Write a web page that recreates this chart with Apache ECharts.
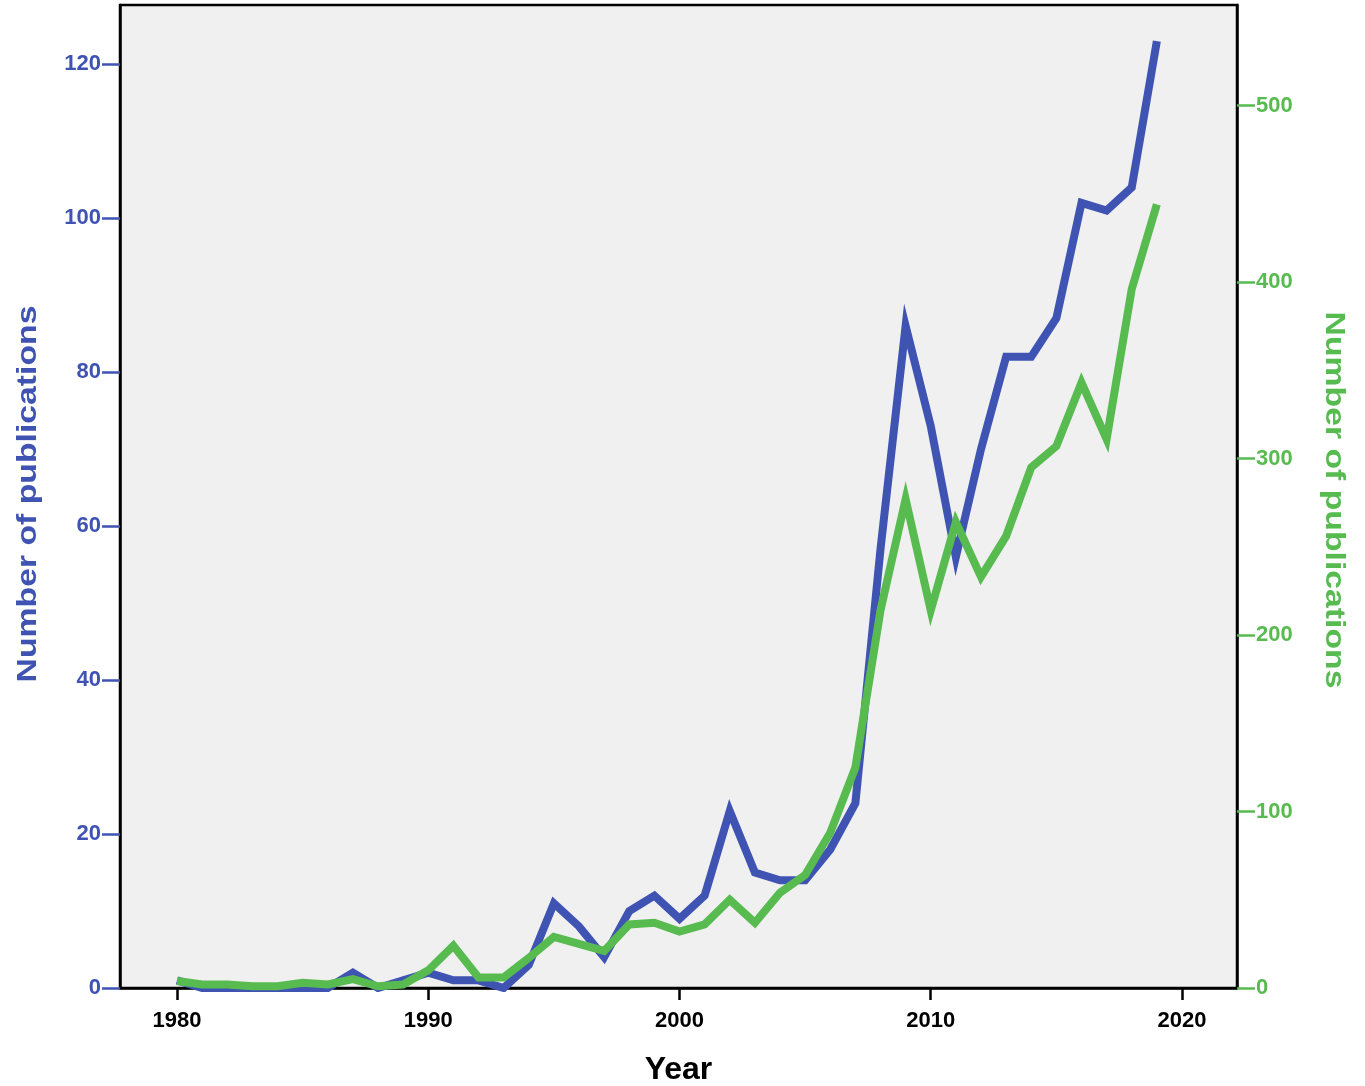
<!DOCTYPE html>
<html>
<head>
<meta charset="utf-8">
<title>Number of publications per year</title>
<script src="https://cdn.jsdelivr.net/npm/echarts@6/dist/echarts.min.js"></script>
<style>
  html, body { margin: 0; padding: 0; background: #ffffff; }
  #chart { width: 1365px; height: 1086px; }
</style>
</head>
<body>
<div id="chart"></div>
<script>
// Publication years
const years = [
  1980, 1981, 1982, 1983, 1984, 1985, 1986, 1987, 1988, 1989,
  1990, 1991, 1992, 1993, 1994, 1995, 1996, 1997, 1998, 1999,
  2000, 2001, 2002, 2003, 2004, 2005, 2006, 2007, 2008, 2009,
  2010, 2011, 2012, 2013, 2014, 2015, 2016, 2017, 2018, 2019
];
// Publications per year, left axis (blue)
const bluePublications = [
  1, 0, 0, 0, 0, 0, 0, 2, 0, 1,
  2, 1, 1, 0, 3, 11, 8, 4, 10, 12,
  9, 12, 23, 15, 14, 14, 18, 24, 57, 86,
  73, 56, 70, 82, 82, 87, 102, 101, 104, 123
];
// Publications per year, right axis (green)
const greenPublications = [
  4, 2, 2, 1, 1, 3, 2, 5, 1, 2,
  10, 24, 6, 6, 17, 29, 25, 21, 36, 37,
  32, 36, 50, 37, 54, 64, 88, 125, 214, 277,
  214, 264, 233, 256, 295, 307, 343, 311, 396, 444
];
// Tick labels
const yearTicks = [1980, 1990, 2000, 2010, 2020];
const leftTicks = [0, 20, 40, 60, 80, 100, 120];
const rightTicks = [0, 100, 200, 300, 400, 500];

const BLUE = '#3f53b3';
const GREEN = '#57bb50';
const FONT = '"Liberation Sans", Arial, sans-serif';

const chart = echarts.init(document.getElementById('chart'), null, { renderer: 'canvas' });

const pairs = (vals) => years.map((y, i) => [y, vals[i]]);
const plain = (v) => String(Math.round(v));

const option = {
  backgroundColor: '#ffffff',
  animation: false,
  grid: {
    left: 120, right: 128, top: 5, bottom: 98,
    show: true,
    backgroundColor: '#f0f0f0',
    borderColor: '#000000',
    borderWidth: 2.5,
    outerBoundsMode: 'none'
  },
  xAxis: {
    type: 'value',
    min: 1977.73,
    max: 2022.19,
    name: 'Year',
    nameLocation: 'middle',
    nameGap: 66,
    nameTextStyle: { color: '#000', fontFamily: FONT, fontWeight: 'bold', fontSize: 32 },
    splitLine: { show: false },
    axisLine: { show: true, lineStyle: { color: '#000', width: 2.5 } },
    axisTick: { show: true, length: 12, lineStyle: { color: '#000', width: 2.5 }, customValues: yearTicks },
    axisLabel: {
      color: '#000', fontFamily: FONT, fontWeight: 'bold', fontSize: 22, margin: 22,
      customValues: yearTicks, formatter: plain
    }
  },
  yAxis: [
    {
      type: 'value',
      position: 'left',
      min: 0,
      max: 127.7,
      splitLine: { show: false },
      axisLine: { show: true, onZero: false, lineStyle: { color: '#000', width: 2.5 } },
      axisTick: { show: true, length: 18, lineStyle: { color: BLUE, width: 2.5 }, customValues: leftTicks },
      axisLabel: {
        color: BLUE, fontFamily: FONT, fontWeight: 'bold', fontSize: 22, margin: 19,
        customValues: leftTicks, formatter: plain
      }
    },
    {
      type: 'value',
      position: 'right',
      min: 0,
      max: 557,
      splitLine: { show: false },
      axisLine: { show: true, onZero: false, lineStyle: { color: '#000', width: 2.5 } },
      axisTick: { show: true, length: 18, lineStyle: { color: GREEN, width: 2.5 }, customValues: rightTicks },
      axisLabel: {
        color: GREEN, fontFamily: FONT, fontWeight: 'bold', fontSize: 22, margin: 19,
        customValues: rightTicks, formatter: plain
      }
    }
  ],
  // Axis titles, set as wide bold lettering along each side
  graphic: [
    {
      type: 'text',
      x: 29, y: 494,
      rotation: Math.PI / 2,
      scaleX: 1.25, scaleY: 1,
      style: {
        text: 'Number of publications',
        fill: BLUE,
        font: 'bold 27px ' + FONT,
        align: 'center',
        verticalAlign: 'middle'
      }
    },
    {
      type: 'text',
      x: 1333, y: 500,
      rotation: -Math.PI / 2,
      scaleX: 1.25, scaleY: 1,
      style: {
        text: 'Number of publications',
        fill: GREEN,
        font: 'bold 27px ' + FONT,
        align: 'center',
        verticalAlign: 'middle'
      }
    }
  ],
  series: [
    {
      type: 'line',
      yAxisIndex: 0,
      data: pairs(bluePublications),
      showSymbol: false,
      symbol: 'none',
      lineStyle: { color: BLUE, width: 8, join: 'miter' },
      z: 2
    },
    {
      type: 'line',
      yAxisIndex: 1,
      data: pairs(greenPublications),
      showSymbol: false,
      symbol: 'none',
      lineStyle: { color: GREEN, width: 8, join: 'miter' },
      z: 3
    }
  ]
};

chart.setOption(option);
</script>
</body>
</html>
